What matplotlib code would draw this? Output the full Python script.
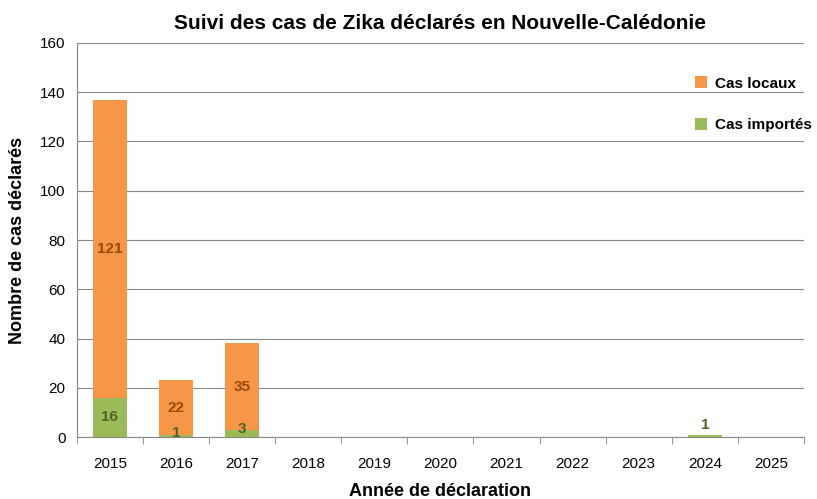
import matplotlib.pyplot as plt
import numpy as np

plt.rcParams['font.family'] = 'Liberation Sans'

years = ['2015', '2016', '2017', '2018', '2019', '2020', '2021', '2022', '2023', '2024', '2025']
importes = [16, 1, 3, 0, 0, 0, 0, 0, 0, 1, 0]
locaux = [121, 22, 35, 0, 0, 0, 0, 0, 0, 0, 0]

orange = '#F79646'
green = '#9BBB59'

fig = plt.figure(figsize=(8.17, 4.99), dpi=100)
ax = fig.add_axes([0.094, 0.124, 0.890, 0.79])
x = np.arange(len(years))
ax.bar(x, importes, width=0.52, color=green, label='Cas importés', zorder=3)
ax.bar(x, locaux, width=0.52, bottom=importes, color=orange, label='Cas locaux', zorder=3)

for i in range(len(years)):
    if locaux[i]:
        ax.text(x[i], importes[i] + locaux[i] / 2, str(locaux[i]), ha='center', va='center',
                fontsize=11, fontweight='bold', color='#984807')
    if importes[i]:
        yy = importes[i] / 2 if importes[i] > 5 else importes[i] + 0.5
        if locaux[i] == 0:
            yy = importes[i] + 4
        ax.text(x[i], yy, str(importes[i]), ha='center', va='center',
                fontsize=11, fontweight='bold', color='#4F6228')

ax.set_xlim(-0.5, len(years) - 0.5)
ax.set_ylim(0, 160)
ax.set_yticks(range(0, 161, 20))
ax.set_xticks(x)
ax.set_xticklabels(years)
ax.tick_params(labelsize=11, length=0)
ax.tick_params(axis='y', pad=8)
ax.set_xticks(np.arange(-0.5, len(years), 1), minor=True)
ax.tick_params(axis='x', which='minor', length=5, color='#868686')
ax.tick_params(axis='x', which='major', length=0, pad=14)
ax.yaxis.grid(True, color='#868686', linewidth=0.8, zorder=0)
for s in ['top', 'right']:
    ax.spines[s].set_visible(False)
ax.spines['left'].set_color('#868686')
ax.spines['bottom'].set_color('#868686')

ax.set_xlabel('Année de déclaration', fontsize=13, fontweight='bold', labelpad=9)
ax.set_ylabel('Nombre de cas déclarés', fontsize=13, fontweight='bold', labelpad=10)
ax.set_title('Suivi des cas de Zika déclarés en Nouvelle-Calédonie', fontsize=15, fontweight='bold', pad=10)

h, l = ax.get_legend_handles_labels()
ax.legend(h[::-1], l[::-1], loc='upper right', bbox_to_anchor=(1.03, 0.95), frameon=False,
          handlelength=0.8, handleheight=0.8, handletextpad=0.5, labelspacing=1.8,
          prop={'weight': 'bold', 'size': 11})

fig.savefig('out.png', dpi=100)
